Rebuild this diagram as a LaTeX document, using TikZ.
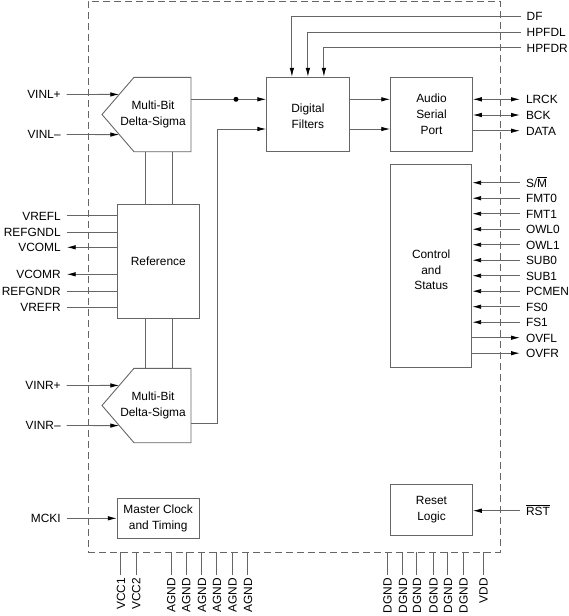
\documentclass[tikz,border=0pt]{standalone}
\usepackage{fontspec}
\setmainfont{Liberation Sans}
\usepackage{tikz}
\usetikzlibrary{calc, arrows.meta}
\tikzstyle{wire}=[draw=black!60, line width=0.9pt]
\tikzstyle{blk}=[wire, shape=rectangle, align=center, inner sep=0pt]
\tikzstyle{chip}=[wire, shape=rectangle, dash pattern=on 7pt off 4pt]
\tikzstyle{pinl}=[inner sep=0pt, outer sep=6pt, text height=8.6pt, text depth=0pt, anchor=east]
\tikzstyle{pinr}=[inner sep=0pt, outer sep=6pt, text height=8.6pt, text depth=0pt, anchor=west]
\tikzstyle{pinb}=[inner sep=0pt, outer sep=3pt, text height=8.6pt, text depth=0pt, rotate=90, anchor=east]
\tikzstyle{dot}=[shape=circle, fill=black, inner sep=0pt, minimum size=5pt]
\tikzset{>={Latex[length=9pt,width=4.5pt,color=black]}}

\begin{document}
\begin{tikzpicture}[x=1pt, y=-1pt, font=\fontsize{11.9}{15.6}\selectfont]
\useasboundingbox (0,0) rectangle (569,616);
% the chip outline
\node[chip, minimum width=412, minimum height=551] (chip) at (294,276.5) {};
% the blocks
\node[blk, minimum width=82.3, minimum height=73.7] (df) at (307.9,114.2) {};
\node[align=center] (dftext) at (307.9,116.5) {Digital\\Filters};
\node[blk, minimum width=81.6, minimum height=73.7] (asp) at (431.5,114.2) {Audio\\Serial\\Port};
\node[blk, minimum width=81, minimum height=203.3] (cs) at (431.2,265.7) {};
\node[align=center] (cstext) at (431.2,270) {Control\\and\\Status};
\node[blk, minimum width=82, minimum height=114.3] (ref) at (158.3,261.2) {Reference};
\node[blk, minimum width=81.7, minimum height=40] (mck) at (158.2,518.3) {Master Clock\\and Timing};
\node[blk, minimum width=81.6, minimum height=51.7] (rst) at (431.5,509.9) {Reset\\Logic};
% the two modulators
\draw[wire] (102,114.5) coordinate (dsltip) -- (134,77.3) coordinate (dslnw) -- (191,77.3) coordinate (dslne)
  -- (191,151.7) coordinate (dslse) -- (134,151.7) coordinate (dslsw) -- cycle;
\node[align=center] (dsl) at (153,114.5) {Multi-Bit\\Delta-Sigma};
\draw[wire] (102,405.5) coordinate (dsrtip) -- (134,368.3) coordinate (dsrnw) -- (191,368.3) coordinate (dsrne)
  -- (191,442.7) coordinate (dsrse) -- (134,442.7) coordinate (dsrsw) -- cycle;
\node[align=center] (dsr) at (153,405.5) {Multi-Bit\\Delta-Sigma};
% modulators to reference
\foreach \s in {-12.6, 14.4} {
  \draw[wire] ([xshift=\s pt]ref.north) -- ([xshift=\s pt]ref.north |- dslsw);
  \draw[wire] ([xshift=\s pt]ref.south) -- ([xshift=\s pt]ref.south |- dsrnw);
}
% modulators to filters to serial port
\coordinate (dslout) at (191,99.3);
\coordinate (dsrout) at (191,423.3);
\coordinate (bus) at (217.3,129);
\draw[wire, ->] (dslout) -- (dslout -| df.west);
\node[dot] (junc) at (236,99.3) {};
\draw[wire, ->] (dsrout) -| (bus) -- (bus -| df.west);
\draw[wire, ->] (df.east |- dslout) -- (asp.west |- dslout);
\draw[wire, ->] (df.east |- bus) -- (asp.west |- bus);
% filter controls
\node[pinr] (pdf) at (520.7,16) {DF};
\node[pinr] (phpfdl) at (520.7,32) {HPFDL};
\node[pinr] (phpfdr) at (520.7,47.7) {HPFDR};
\draw[wire, ->] (pdf.west) -| ([xshift=-16pt]df.north);
\draw[wire, ->] (phpfdl.west) -| (df.north);
\draw[wire, ->] (phpfdr.west) -| ([xshift=16pt]df.north);
% serial port pins
\node[pinr] (lrck) at (520,99.3) {LRCK};
\node[pinr] (bck) at (520,115) {BCK};
\node[pinr] (data) at (520,130.7) {DATA};
\draw[wire, <->] (lrck.west -| asp.east) -- (lrck.west);
\draw[wire, <->] (bck.west -| asp.east) -- (bck.west);
\draw[wire, ->] (data.west -| asp.east) -- (data.west);
% control and status pins
\foreach \name/\txt [count=\i from 0] in {sm/{S/$\overline{\mbox{M}}$}, fmt0/FMT0, fmt1/FMT1, owl0/OWL0, owl1/OWL1,
    sub0/SUB0, sub1/SUB1, pcmen/PCMEN, fs0/FS0, fs1/FS1} {
  \node[pinr] (\name) at (520,182.7+15.5*\i) {\txt};
  \draw[wire, ->] (\name.west) -- (\name.west -| cs.east);
}
\foreach \name/\txt [count=\i from 10] in {ovfl/OVFL, ovfr/OVFR} {
  \node[pinr] (\name) at (520,182.7+15.5*\i) {\txt};
  \draw[wire, ->] (\name.west -| cs.east) -- (\name.west);
}
% reset
\node[pinr] (prst) at (520,510.7) {$\overline{\mbox{RST}}$};
\draw[wire, ->] (prst.west) -- (prst.west -| rst.east);
% analog inputs
\node[pinl] (vinlp) at (66.7,94.5) {VINL+};
\node[pinl] (vinlm) at (66.7,134.5) {VINL–};
\node[pinl] (vinrp) at (66.7,385.5) {VINR+};
\node[pinl] (vinrm) at (66.7,425.5) {VINR–};
\draw[wire, ->] (vinlp.east) -- ($(dsltip)!0.54!(dslnw)$);
\draw[wire, ->] (vinlm.east) -- ($(dsltip)!0.54!(dslsw)$);
\draw[wire, ->] (vinrp.east) -- ($(dsrtip)!0.54!(dsrnw)$);
\draw[wire, ->] (vinrm.east) -- ($(dsrtip)!0.54!(dsrsw)$);
% reference pins
\foreach \name/\txt/\y in {vrefl/VREFL/215.7, refgndl/REFGNDL/232, refgndr/REFGNDR/291.3, vrefr/VREFR/307.3} {
  \node[pinl] (\name) at (66.7,\y) {\txt};
  \draw[wire] (\name.east) -- (\name.east -| ref.west);
}
\foreach \name/\txt/\y in {vcoml/VCOML/247.3, vcomr/VCOMR/274.3} {
  \node[pinl] (\name) at (66.7,\y) {\txt};
  \draw[wire, ->] (\name.east -| ref.west) -- (\name.east);
}
% clock
\node[pinl] (mcki) at (66.7,518.3) {MCKI};
\draw[wire, ->] (mcki.east) -- (mcki.east -| mck.west);
% supply pins
\foreach \name/\txt/\x in {vcc1/VCC1/120.7, vcc2/VCC2/136, agnda/AGND/171, agndb/AGND/186, agndc/AGND/201.7,
    agndd/AGND/216.7, agnde/AGND/232.3, agndf/AGND/247.7, dgnda/DGND/387.3, dgndb/DGND/402.7, dgndc/DGND/416.7,
    dgndd/DGND/433.3, dgnde/DGND/447.7, dgndf/DGND/463.3, vdd/VDD/483.3} {
  \node[pinb] (\name) at (\x,575) {\txt};
  \draw[wire] (\name.east) -- (\name.east |- chip.south);
}
\end{tikzpicture}
\end{document}
